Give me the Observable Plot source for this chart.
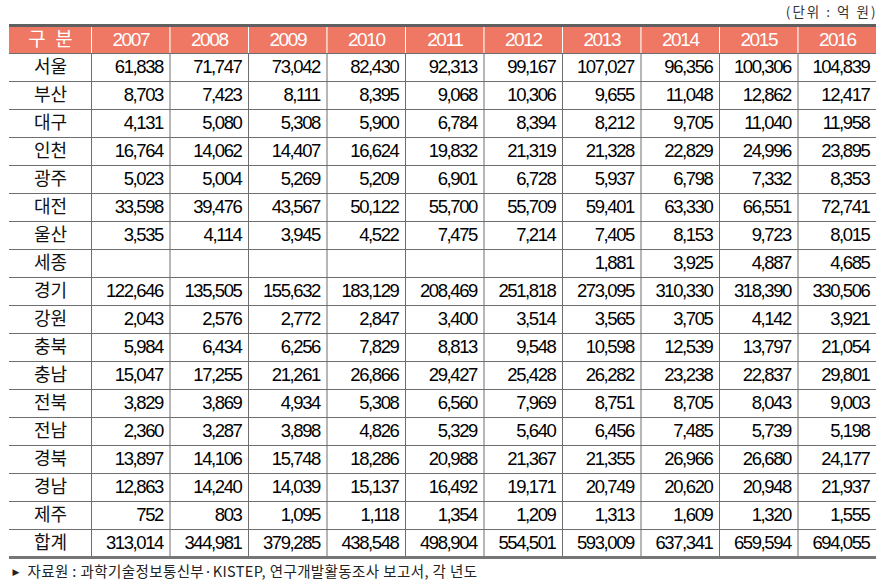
<!DOCTYPE html>
<html>
<head>
<meta charset="utf-8">
<script src="https://cdn.jsdelivr.net/npm/d3@7"></script>
<script src="https://cdn.jsdelivr.net/npm/@observablehq/plot@0.6"></script>
<style>
  html, body { margin: 0; padding: 0; background: #fff; }
</style>
</head>
<body>
<div id="chart"></div>
<script>
const regions = ["서울","부산","대구","인천","광주","대전","울산","세종","경기","강원","충북","충남","전북","전남","경북","경남","제주","합계"];
const years = ["2007","2008","2009","2010","2011","2012","2013","2014","2015","2016"];
const headerFirst = "구\u2002분";
const unitLabel = "(단위 : 억 원)";
const sourceLabel = "자료원 : 과학기술정보통신부·KISTEP, 연구개발활동조사 보고서, 각 년도";

const y2007 = [61838, 8703, 4131, 16764, 5023, 33598, 3535, null, 122646, 2043, 5984, 15047, 3829, 2360, 13897, 12863, 752, 313014];
const y2008 = [71747, 7423, 5080, 14062, 5004, 39476, 4114, null, 135505, 2576, 6434, 17255, 3869, 3287, 14106, 14240, 803, 344981];
const y2009 = [73042, 8111, 5308, 14407, 5269, 43567, 3945, null, 155632, 2772, 6256, 21261, 4934, 3898, 15748, 14039, 1095, 379285];
const y2010 = [82430, 8395, 5900, 16624, 5209, 50122, 4522, null, 183129, 2847, 7829, 26866, 5308, 4826, 18286, 15137, 1118, 438548];
const y2011 = [92313, 9068, 6784, 19832, 6901, 55700, 7475, null, 208469, 3400, 8813, 29427, 6560, 5329, 20988, 16492, 1354, 498904];
const y2012 = [99167, 10306, 8394, 21319, 6728, 55709, 7214, null, 251818, 3514, 9548, 25428, 7969, 5640, 21367, 19171, 1209, 554501];
const y2013 = [107027, 9655, 8212, 21328, 5937, 59401, 7405, 1881, 273095, 3565, 10598, 26282, 8751, 6456, 21355, 20749, 1313, 593009];
const y2014 = [96356, 11048, 9705, 22829, 6798, 63330, 8153, 3925, 310330, 3705, 12539, 23238, 8705, 7485, 26966, 20620, 1609, 637341];
const y2015 = [100306, 12862, 11040, 24996, 7332, 66551, 9723, 4887, 318390, 4142, 13797, 22837, 8043, 5739, 26680, 20948, 1320, 659594];
const y2016 = [104839, 12417, 11958, 23895, 8353, 72741, 8015, 4685, 330506, 3921, 21054, 29801, 9003, 5198, 24177, 21937, 1555, 694055];

const series = [y2007, y2008, y2009, y2010, y2011, y2012, y2013, y2014, y2015, y2016];

const fmt = d3.format(",");
const cells = [];
series.forEach((arr, c) => {
  arr.forEach((v, r) => {
    if (v != null) cells.push({col: c + 1, row: r + 1, text: fmt(v)});
  });
});
const headerLabels = [headerFirst, ...years];
const nCols = headerLabels.length;       // 11
const nRows = regions.length + 1;        // 19 incl. header

const numFont = "'Liberation Sans', Arial, sans-serif";
const korFont = "'Noto Sans CJK KR', 'Noto Sans', sans-serif";
const srcFont = "'Noto Sans CJK KR', sans-serif";
const unitFont = "'Noto Sans CJK KR', 'Noto Sans CJK SC', sans-serif";

const lineColor = "#6e6e6e";
const headerFill = "#EE7864";

const chart = Plot.plot({
  width: 883,
  height: 580,
  marginTop: 0, marginBottom: 0, marginLeft: 0, marginRight: 0,
  x: {type: "linear", domain: [0, 1, nCols], range: [9, 91, 876], axis: null},
  y: {type: "linear", domain: [0, nRows], range: [25, 557], axis: null},
  style: {background: "#fff", overflow: "visible"},
  marks: [
    Plot.rect(headerLabels, {x1: (d, i) => i, x2: (d, i) => i + 1, y1: () => 0, y2: () => 1, fill: headerFill}),
    Plot.ruleX(d3.range(1, nCols), {y1: () => 0, y2: () => 1, stroke: "#fff", strokeWidth: 1}),
    Plot.ruleX(d3.range(1, nCols), {y1: () => 1, y2: () => nRows, stroke: lineColor, strokeWidth: 1}),
    Plot.ruleY(d3.range(1, nRows), {x1: () => 0, x2: () => nCols, stroke: lineColor, strokeWidth: 1}),
    Plot.ruleY([0], {x1: () => 0, x2: () => nCols, stroke: "#5f5f5f", strokeWidth: 3}),
    Plot.ruleY([nRows], {x1: () => 0, x2: () => nCols, stroke: "#767676", strokeWidth: 3}),
    Plot.text([headerFirst], {x: () => 0.5, y: () => 0.5, text: d => d, fill: "#fff", fontSize: 19, fontFamily: korFont}),
    Plot.text(years, {x: (d, i) => i + 1.5, y: () => 0.5, text: d => d, fill: "#fff", fontSize: 19, fontFamily: numFont}),
    Plot.text(regions, {x: () => 0.5, y: (d, i) => i + 1.5, text: d => d, fill: "#111", fontSize: 18, fontFamily: korFont}),
    Plot.text(cells, {x: d => d.col + 1, y: d => d.row + 0.5, text: "text", textAnchor: "end", dx: -7, fill: "#000", fontSize: 18.5, fontFamily: numFont}),
    Plot.text([unitLabel], {x: () => nCols, y: () => 0, text: d => d, textAnchor: "end", dx: 1, dy: -13, fill: "#333", fontSize: 13.5, fontFamily: unitFont}),
    Plot.text(["▶"], {x: () => 0, y: () => nRows, text: d => d, textAnchor: "start", dx: 3, dy: 15, fill: "#222", fontSize: 9, fontFamily: "'DejaVu Sans', sans-serif"}),
    Plot.text([sourceLabel], {x: () => 0, y: () => nRows, text: d => d, textAnchor: "start", dx: 18, dy: 15, fill: "#222", fontSize: 14.5, fontFamily: srcFont})
  ]
});

const svg = d3.select(chart);
svg.selectAll("g").filter(function() { return this.getAttribute("font-family") === numFont; })
  .style("letter-spacing", "-1.4px");
svg.selectAll("g").filter(function() { return this.getAttribute("font-family") === srcFont; })
  .style("letter-spacing", "0.4px");
svg.selectAll("g").filter(function() { return this.getAttribute("font-family") === unitFont; })
  .style("letter-spacing", "2px");

document.getElementById("chart").appendChild(chart);
</script>
</body>
</html>
